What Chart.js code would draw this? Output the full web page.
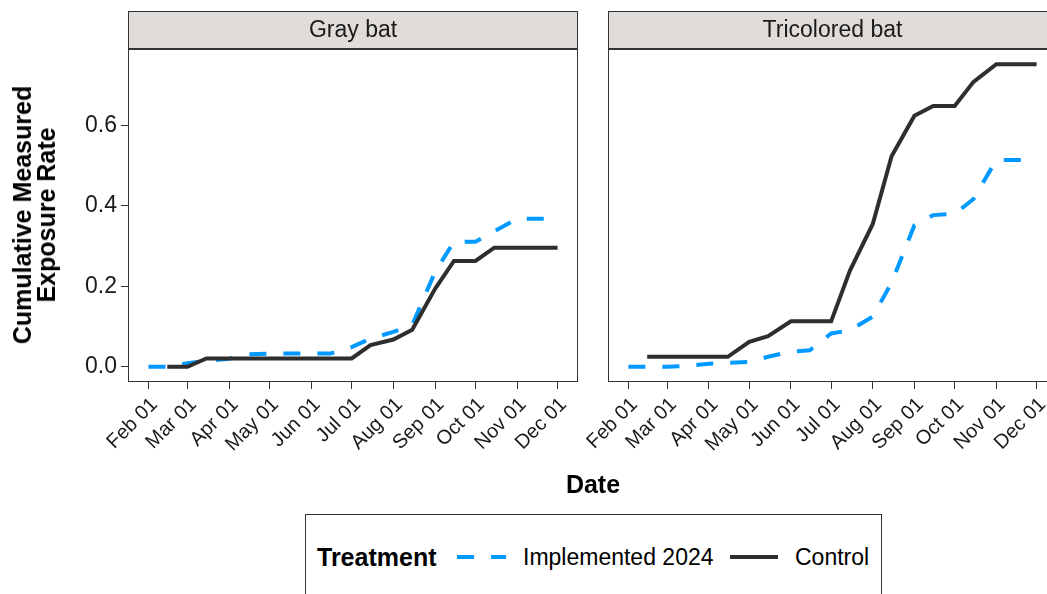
<!DOCTYPE html>
<html>
<head>
<meta charset="utf-8">
<script src="https://cdn.jsdelivr.net/npm/chart.js@4.4.1/dist/chart.umd.min.js"></script>
<style>
    html, body { margin: 0; padding: 0; background: #fff; overflow: hidden; width: 1047px; height: 594px; }
    body { position: relative; font-family: "Liberation Sans", Arial, sans-serif; color: #000; }
    canvas { position: absolute; top: 0; }
    #grayChart { left: 0; }
    #triChart { left: 580px; }
    .ytitle {
        position: absolute; left: 34px; top: 215px;
        transform: translate(-50%, -50%) rotate(-90deg);
        font-weight: bold; font-size: 25px; line-height: 24px;
        text-align: center; white-space: nowrap;
    }
    .xtitle {
        position: absolute; left: 593px; top: 484px;
        transform: translate(-50%, -50%);
        font-weight: bold; font-size: 25px; white-space: nowrap;
    }
    .legend-box {
        position: absolute; left: 305px; top: 514px; width: 577px; height: 100px;
        border: 1px solid #333; box-sizing: border-box;
    }
    .legend-item {
        position: absolute; top: 557px; transform: translateY(-50%);
        font-size: 23px; white-space: nowrap;
    }
    .legend-title { font-weight: bold; font-size: 25px; }
    .legend-key { position: absolute; top: 550px; }
</style>
</head>
<body>
<canvas id="grayChart" width="590" height="470"></canvas>
<canvas id="triChart" width="480" height="470"></canvas>

<div class="ytitle">Cumulative Measured<br>Exposure Rate</div>
<div class="xtitle">Date</div>

<div class="legend-box"></div>
<div class="legend-item legend-title" style="left:317px;">Treatment</div>
<svg class="legend-key" style="left:456px;" width="50" height="14">
    <line x1="1" y1="7" x2="50" y2="7" stroke="#0099FF" stroke-width="4" stroke-dasharray="17 17"/>
</svg>
<div class="legend-item" style="left:523px;">Implemented 2024</div>
<svg class="legend-key" style="left:730px;" width="48" height="14">
    <line x1="0" y1="7" x2="48" y2="7" stroke="#2e2e2e" stroke-width="4"/>
</svg>
<div class="legend-item" style="left:795px;">Control</div>

<script>
const sampleDates = [
    '2024-02-01', '2024-02-15', '2024-03-01', '2024-03-15', '2024-04-01', '2024-04-15',
    '2024-05-01', '2024-05-15', '2024-06-01', '2024-06-15', '2024-07-01', '2024-07-15',
    '2024-08-01', '2024-08-15', '2024-09-01', '2024-09-15', '2024-10-01', '2024-10-15',
    '2024-11-01', '2024-11-15', '2024-12-01'
];

const monthTickDates = [
    '2024-02-01', '2024-03-01', '2024-04-01', '2024-05-01', '2024-06-01', '2024-07-01',
    '2024-08-01', '2024-09-01', '2024-10-01', '2024-11-01', '2024-12-01'
];
const monthTickLabels = ['Feb 01', 'Mar 01', 'Apr 01', 'May 01', 'Jun 01', 'Jul 01',
                         'Aug 01', 'Sep 01', 'Oct 01', 'Nov 01', 'Dec 01'];
const yTickValues = [0, 0.2, 0.4, 0.6];

// Gray bat
const grayImplemented = [0, 0, 0.009, 0.015, 0.02, 0.031, 0.033, 0.033, 0.033, 0.033, 0.049,
                         0.070, 0.087, 0.104, 0.236, 0.311, 0.311, 0.337, 0.368, 0.368, 0.368];
const grayControl = [null, 0, 0, 0.021, 0.021, 0.021, 0.021, 0.021, 0.021, 0.021, 0.021,
                     0.054, 0.068, 0.092, 0.194, 0.263, 0.263, 0.296, 0.296, 0.296, 0.296];

// Tricolored bat
const triImplemented = [0, 0, 0, 0.002, 0.008, 0.010, 0.012, 0.025, 0.038, 0.041, 0.083,
                        0.091, 0.125, 0.209, 0.352, 0.377, 0.380, 0.417, 0.514, 0.514, 0.514];
const triControl = [null, 0.025, 0.025, 0.025, 0.025, 0.025, 0.062, 0.076, 0.113, 0.113, 0.113,
                    0.239, 0.355, 0.523, 0.624, 0.648, 0.648, 0.708, 0.752, 0.752, 0.752];

const BLUE = '#0099FF';
const DARK = '#2e2e2e';
const FONT = '"Liberation Sans", Arial, sans-serif';

const originMs = Date.parse(sampleDates[0]);
function toDay(s) {
    return (Date.parse(s) - originMs) / 86400000;
}

const xSpan = toDay(sampleDates[sampleDates.length - 1]);
const xMin = -0.05 * xSpan;
const xMax = xSpan * 1.05;

const allY = [...grayImplemented, ...grayControl, ...triImplemented, ...triControl].filter(v => v !== null);
const yTop = Math.max(...allY);
const yMin = -0.05 * yTop;
const yMax = yTop * 1.05;

function toPoints(values) {
    return values.map((v, i) => ({ x: toDay(sampleDates[i]), y: v }));
}

const stripPlugin = {
    id: 'strip',
    afterDraw(chart, args, opts) {
        const { ctx, chartArea } = chart;
        const x = chartArea.left;
        const w = chartArea.right - chartArea.left;
        ctx.save();
        ctx.fillStyle = '#e0dcd9';
        ctx.fillRect(x, 11, w, 38);
        ctx.strokeStyle = '#333';
        ctx.lineWidth = 1;
        ctx.strokeRect(x + 0.5, 11.5, w - 1, 37);
        ctx.strokeRect(x + 0.5, chartArea.top + 0.5, w - 1, chartArea.bottom - chartArea.top - 1);
        ctx.fillStyle = '#1a1a1a';
        ctx.font = '23px ' + FONT;
        ctx.textAlign = 'center';
        ctx.textBaseline = 'middle';
        ctx.fillText(opts.text, x + w / 2, 31);
        ctx.restore();
    }
};

function makePanel(canvasId, title, implemented, control, showY, padding) {
    const ctx = document.getElementById(canvasId).getContext('2d');
    return new Chart(ctx, {
        type: 'line',
        data: {
            datasets: [
                {
                    label: 'Control',
                    data: toPoints(control),
                    borderColor: DARK,
                    borderWidth: 4,
                    pointRadius: 0,
                    tension: 0,
                    spanGaps: false
                },
                {
                    label: 'Implemented 2024',
                    data: toPoints(implemented),
                    borderColor: BLUE,
                    borderWidth: 4,
                    borderDash: [17, 17],
                    pointRadius: 0,
                    tension: 0
                }
            ]
        },
        options: {
            responsive: false,
            animation: false,
            layout: { padding: padding },
            plugins: {
                legend: { display: false },
                tooltip: { enabled: false },
                strip: { text: title }
            },
            scales: {
                x: {
                    type: 'linear',
                    min: xMin,
                    max: xMax,
                    afterBuildTicks: axis => {
                        axis.ticks = monthTickDates.map(d => ({ value: toDay(d) }));
                    },
                    afterFit: axis => {
                        axis.height = 88;
                        axis.paddingLeft = 0;
                        axis.paddingRight = 0;
                    },
                    grid: {
                        drawOnChartArea: false,
                        drawTicks: true,
                        tickLength: 7,
                        color: '#333',
                        tickColor: '#333'
                    },
                    border: { display: false },
                    ticks: {
                        autoSkip: false,
                        minRotation: 45,
                        maxRotation: 45,
                        padding: 4,
                        labelOffset: 6,
                        color: '#1a1a1a',
                        font: { family: FONT, size: 20 },
                        callback: (value, index) => monthTickLabels[index]
                    }
                },
                y: {
                    display: showY,
                    min: yMin,
                    max: yMax,
                    afterBuildTicks: axis => {
                        axis.ticks = yTickValues.map(v => ({ value: v }));
                    },
                    afterFit: axis => {
                        axis.width = showY ? 128 : 0;
                    },
                    grid: {
                        drawOnChartArea: false,
                        drawTicks: true,
                        tickLength: 7,
                        color: '#333',
                        tickColor: '#333'
                    },
                    border: { display: false },
                    ticks: {
                        padding: 4,
                        color: '#1a1a1a',
                        font: { family: FONT, size: 23 },
                        callback: value => value.toFixed(1)
                    }
                }
            }
        },
        plugins: [stripPlugin]
    });
}

makePanel('grayChart', 'Gray bat', grayImplemented, grayControl, true,
    { top: 49, left: 0, right: 12, bottom: 0 });
makePanel('triChart', 'Tricolored bat', triImplemented, triControl, false,
    { top: 49, left: 28, right: 3, bottom: 0 });
</script>
</body>
</html>
